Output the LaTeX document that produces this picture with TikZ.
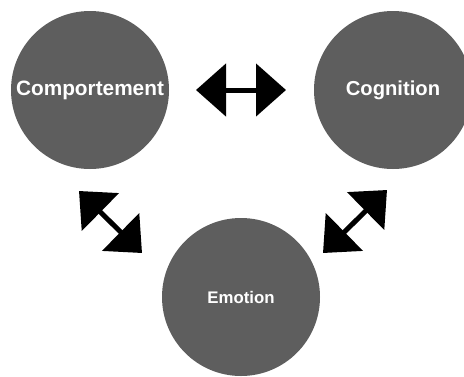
\documentclass[tikz,border=0pt]{standalone}
\usepackage{fontspec}
\setmainfont{Liberation Sans}
\usetikzlibrary{arrows.meta}
\definecolor{circgray}{HTML}{5E5E5E}
\begin{document}
\begin{tikzpicture}[x=1pt,y=-1pt,
  bubble/.style={circle, fill=circgray, minimum size=158pt, inner sep=0pt, text=white, font=\bfseries},
  biarrow/.style={line width=5pt, {Triangle[length=30pt,width=52pt]}-{Triangle[length=30pt,width=52pt]}}]
\useasboundingbox (0,0) rectangle (464,376);
\begin{scope}
\clip (0,0) rectangle (464,376);
\node[bubble, font=\bfseries\fontsize{20.8}{24}\selectfont] (comp) at (90,90) {Comportement};
\node[bubble, font=\bfseries\fontsize{20.2}{24}\selectfont] (cogn) at (393,90) {Cognition};
\node[bubble, font=\bfseries\fontsize{16.8}{20}\selectfont] (emo) at (241,297) {Emotion};
\end{scope}
\coordinate (h1) at (196,90);
\coordinate (h2) at (286,90);
\coordinate (l1) at (79,191);
\coordinate (l2) at (142,253);
\coordinate (r1) at (387,190);
\coordinate (r2) at (323,253);
\draw[biarrow] (h1) -- (h2);
\draw[biarrow] (l1) -- (l2);
\draw[biarrow] (r1) -- (r2);
\end{tikzpicture}
\end{document}
